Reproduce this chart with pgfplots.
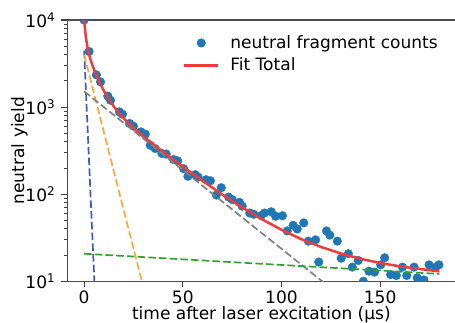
\documentclass[border=0pt]{standalone}
\usepackage{pgfplots}
\pgfplotsset{compat=1.18}
\usepackage{fontspec}
\setmainfont{DejaVu Sans}
\definecolor{c0}{RGB}{31,119,180}
\definecolor{fitred}{RGB}{240,60,60}
\definecolor{dblue}{RGB}{60,90,200}
\definecolor{dorange}{RGB}{255,165,60}
\definecolor{dgray}{RGB}{128,128,128}
\definecolor{dgreen}{RGB}{50,160,50}
\pgfplotsset{
  dotlegend/.style={legend image code/.code={\path[draw=none,fill=none] (0pt,0pt) -- (44pt,0pt);\draw[mark repeat=2,mark phase=2,##1] plot coordinates {(0pt,0pt)(17pt,0pt)(34pt,0pt)};}},
  linelegend/.style={legend image code/.code={\path[draw=none,fill=none] (0pt,0pt) -- (44pt,0pt);\draw[##1] (0pt,0pt) -- (34pt,0pt);}},
}
\begin{document}
\fontsize{17}{20.4}\selectfont
\begin{tikzpicture}
\begin{axis}[
  scale only axis, width=388pt, height=261pt,
  ymode=log, xmin=-8.63, xmax=188.3, ymin=10, ymax=10000,
  clip marker paths=true,
  xtick={0,50,100,150},
  ytick={10,100,1000,10000},
  yticklabels={10\textsuperscript{1},10\textsuperscript{2},10\textsuperscript{3},10\textsuperscript{4}},
  tick align=outside, tick pos=left,
  major tick length=6pt, minor tick length=3.4pt,
  axis line style={line width=1.2pt, black!70},
  every tick/.style={black!75, line width=1.2pt},
  every minor tick/.style={black!75, line width=1pt},
  /pgf/number format/assume math mode=true,
  tick label style={font=\fontsize{17}{20.4}\selectfont},
  xticklabel style={yshift=2.5pt},
  label style={font=\fontsize{17}{20.4}\selectfont},
  xlabel={time after laser excitation (µs)},
  ylabel={neutral yield},
  xlabel style={at={(axis description cs:0.5,0)}, anchor=base, yshift=-38pt},
  ylabel style={at={(axis description cs:0,0.5)}, anchor=center, yshift=47.5pt},
  legend style={draw=none, fill=none, at={(0.29,0.958)}, anchor=north west,
    cells={anchor=west}, row sep=3pt, font=\fontsize{17}{20.4}\selectfont},
  legend cell align=left,
]
\addplot[only marks, mark=*, mark size=4.3pt, color=c0, mark options={draw=none, fill=c0}, dotlegend]
coordinates {
(0,10000)(2.5,4350)(6.2,2350)(8.3,1950)(12.0,1340)(13.4,1200)(17.9,883)(19.4,830)
(23.0,650)(25.0,605)(28.8,520)(31.0,490)(33.5,366)(36.0,335)(39.4,294)(41.6,290)
(45.3,251)(47.4,242)(50.4,197)(52.6,161)(56.3,168)(57.7,158)(61.8,147)(64.0,143)
(67.0,98)(69.5,119)(73.2,93)(75.0,87)(78.7,81)(80.1,73)(83.9,61)(86.0,59)
(89.7,57)(91.4,61)(94.8,63)(97.0,56)(100.5,56.7)(102.9,38)(105.9,44)(108.0,40)
(111.3,47)(113.6,29)(117.3,30)(118.9,16.7)(122.8,38)(124.5,34)(128.3,29)(130.3,18.5)
(133.9,20.8)(135.9,14.6)(138.9,17.4)(141.5,10.05)(144.3,13.1)(147.2,12.8)(150.3,15.5)(152.3,18.7)
(155.3,12)(158.2,11.7)(161.3,14.6)(163.5,11.7)(167.2,14.6)(168.8,11)(172.2,10.4)(174.8,15.5)
(178.2,14.6)(179.8,15.5)
};
\addlegendentry{neutral fragment counts}
\addplot[color=fitred, line width=2.5pt, no marks, linelegend]
coordinates {
(0,10000)(0.5,7602)(1,6119)(1.5,5159)(2,4504)(3,3661)(4,3114)(5,2707)(6,2381)
(8,1890)(10,1541)(12,1287)(15,1020)(18,840)(21,708)(25,580)(30,464)(35,376)
(40,307)(50,208)(60,142.7)(70,99.5)(80,70.9)(90,51.9)(100,39.2)(110,30.6)
(120,24.9)(130,20.96)(140,18.2)(150,16.3)(160,14.9)(170,13.9)(180,13.05)
};
\addlegendentry{Fit Total}
\addplot[color=dblue, line width=1.7pt, dash pattern=on 7.5pt off 3.2pt, no marks, forget plot]
coordinates {(0,4459)(6,3.9)};
\addplot[color=dorange, line width=1.7pt, dash pattern=on 7.5pt off 3.2pt, no marks, forget plot]
coordinates {(0,4000)(35,3.1)};
\addplot[color=dgray, line width=1.7pt, dash pattern=on 7.5pt off 3.2pt, no marks, forget plot]
coordinates {(0,1520)(130,6.8)};
\addplot[color=dgreen, line width=1.7pt, dash pattern=on 7.5pt off 3.2pt, no marks, forget plot]
coordinates {(0,20.8)(180,12.2)};
\coordinate (ll) at (rel axis cs:0,0);
\coordinate (ur) at (rel axis cs:1,1);
\end{axis}
\pgfresetboundingbox
\path ([shift={(-67pt,-41pt)}]ll) rectangle ([shift={(-0.7pt,20pt)}]ur);
\end{tikzpicture}
\end{document}
